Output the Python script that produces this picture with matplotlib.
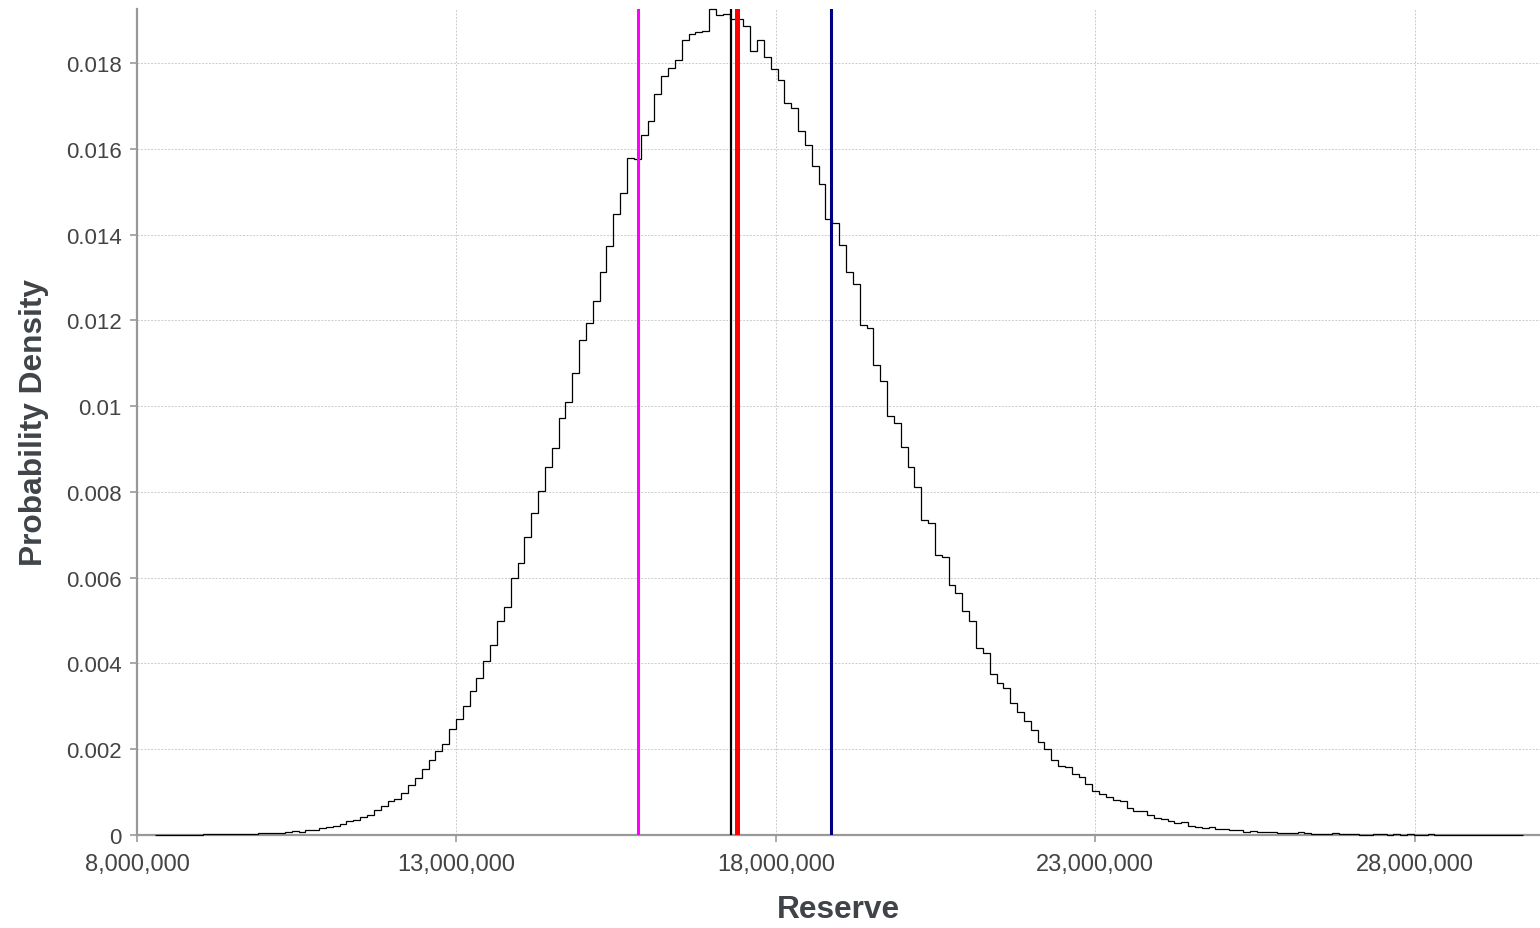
import numpy as np
import matplotlib
matplotlib.use("Agg")
import matplotlib.pyplot as plt
from matplotlib.ticker import FuncFormatter, FixedLocator

# ---- data ----
bin_start = 8.28e6
bin_width = 0.1071e6
density = [
    0.000005, 0.000005, 0.000005, 0.000008, 0.000008, 0.00001, 0.00001, 0.000015, 0.000015, 0.00002,
    0.00002, 0.00002, 0.000025, 0.00003, 0.00003, 0.00004, 0.00004, 0.00004, 0.000047, 0.00007,
    0.000093, 0.00007, 0.00011, 0.000124, 0.00016, 0.00019, 0.00022, 0.00025, 0.00032, 0.00036,
    0.00042, 0.00047, 0.00058, 0.00068, 0.00079, 0.00085, 0.00098, 0.00116, 0.00133, 0.00155,
    0.00175, 0.00196, 0.00212, 0.00248, 0.00270, 0.00300, 0.00336, 0.00365, 0.00405, 0.00443,
    0.00500, 0.00532, 0.00599, 0.00634, 0.00696, 0.00751, 0.00801, 0.00858, 0.00902, 0.00972,
    0.01009, 0.01078, 0.01154, 0.01195, 0.01246, 0.01313, 0.01373, 0.01449, 0.01498, 0.01579,
    0.01576, 0.01632, 0.01665, 0.01728, 0.01770, 0.01788, 0.01806, 0.01854, 0.01867, 0.01873,
    0.01875, 0.01926, 0.01913, 0.01914, 0.01903, 0.01903, 0.01887, 0.01829, 0.01854, 0.01813,
    0.01787, 0.01760, 0.01707, 0.01695, 0.01641, 0.01608, 0.01561, 0.01517, 0.01436, 0.01426,
    0.01376, 0.01313, 0.01285, 0.01190, 0.01182, 0.01097, 0.01058, 0.00977, 0.00961, 0.00905,
    0.00858, 0.00811, 0.00734, 0.00727, 0.00652, 0.00649, 0.00584, 0.00565, 0.00523, 0.00498,
    0.00437, 0.00425, 0.00376, 0.00354, 0.00342, 0.00308, 0.00287, 0.00266, 0.00245, 0.00217,
    0.00201, 0.00175, 0.00162, 0.00159, 0.00142, 0.00136, 0.00120, 0.00103, 0.00096, 0.00088,
    0.00082, 0.00079, 0.00064, 0.00056, 0.00056, 0.00046, 0.00040, 0.00037, 0.00032, 0.00029,
    0.00030, 0.00022, 0.00018, 0.00017, 0.00019, 0.00015, 0.00014, 0.00012, 0.00012, 0.00008,
    0.00010, 0.00008, 0.00008, 0.00007, 0.00005, 0.00004, 0.00005, 0.00006, 0.00005, 0.00003,
    0.00002, 0.00002, 0.00005, 0.00002, 0.00002, 0.00003, 0.00001, 0.00001, 0.00002, 0.00002,
    0.00001, 0.00002, 0.00001, 0.00002, 0.00001, 0.00001, 0.00003, 0.000005, 0.000005, 0.000005,
    0.000005, 0.000005, 0.000005, 0.000005, 0.000005, 0.000005, 0.000005, 0.000005, 0.000005, 0.000005,
]
marker_values = [15.836e6, 17.303e6, 17.392e6, 18.858e6]
marker_colors = ["#ff00ff", "#000000", "#ff0000", "#000080"]
marker_widths = [2.2, 1.6, 3.6, 2.2]

x_ticks = [8e6, 13e6, 18e6, 23e6, 28e6]
y_ticks = [0, 0.002, 0.004, 0.006, 0.008, 0.01, 0.012, 0.014, 0.016, 0.018]
x_label = "Reserve"
y_label = "Probability Density"

# ---- plot ----
plt.rcParams["font.family"] = ["Liberation Sans", "DejaVu Sans"]
fig = plt.figure(figsize=(15.4, 9.29), dpi=100)
ax = fig.add_axes([137 / 1540, 93 / 929, 1 - 137 / 1540, (836 - 10) / 929])

edges = bin_start + bin_width * np.arange(len(density) + 1)
ax.stairs(density, edges, color="black", linewidth=0.9, zorder=3, clip_on=False)

for v, c, w in zip(marker_values, marker_colors, marker_widths):
    ax.axvline(v, color=c, linewidth=w, zorder=4)

ax.set_xlim(8e6, 29.96e6)
ax.set_ylim(0, 0.01926)
ax.xaxis.set_major_locator(FixedLocator(x_ticks))
ax.yaxis.set_major_locator(FixedLocator(y_ticks))
ax.xaxis.set_major_formatter(FuncFormatter(lambda v, p: f"{v:,.0f}"))
ax.yaxis.set_major_formatter(FuncFormatter(lambda v, p: f"{v:g}"))

ax.grid(True, color="#cccccc", linestyle=(0, (2, 1.5)), linewidth=0.7, zorder=0)
ax.set_axisbelow(True)

for s in ["top", "right"]:
    ax.spines[s].set_visible(False)
for s in ["left", "bottom"]:
    ax.spines[s].set_color("#999999")
    ax.spines[s].set_linewidth(1.6)
    ax.spines[s].set_zorder(2)

ax.tick_params(axis="both", colors="#999999", length=5, width=1.2,
               labelcolor="#444444", pad=6)
ax.tick_params(axis="y", labelsize=16)
ax.tick_params(axis="x", labelsize=17, pad=8)

ax.set_xlabel(x_label, fontsize=22.8, fontweight="bold", color="#404448", labelpad=14)
ax.set_ylabel(y_label, fontsize=22.8, fontweight="bold", color="#404448", labelpad=12)

fig.savefig("out.png", dpi=100)
